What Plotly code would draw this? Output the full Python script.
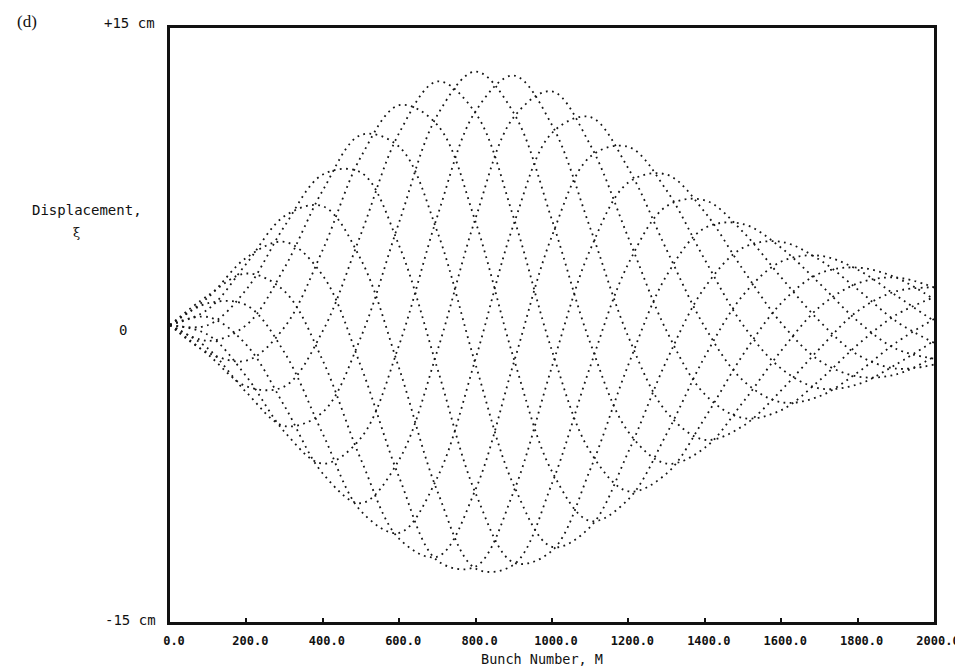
import plotly.graph_objects as go

# Bunch number knots (M) and displacement (cm)
M_knots = [0, 100, 200, 300, 400, 500, 600, 700, 800, 900, 1000,
           1100, 1200, 1300, 1400, 1500, 1600, 1700, 1800, 1900, 2000]

curve_01 = [0, -1.2, -3.4, -5.1, -4.4, -0.6, 5.2, 10.6, 12.8, 10.7, 5.3, -0.9, -5.4, -7.0, -6.2, -3.9, -1.3, 0.9, 2.1, 2.4, 1.9]
curve_02 = [0, -0.5, -2.6, -5.4, -7.0, -5.7, -1.0, 5.5, 10.8, 12.6, 10.1, 4.9, -0.6, -4.4, -5.8, -5.1, -3.3, -1.2, 0.7, 1.7, 1.9]
curve_03 = [0, 0.4, -1.0, -4.1, -7.5, -9.0, -6.8, -1.3, 5.4, 10.5, 11.8, 9.1, 4.4, -0.3, -3.5, -4.7, -4.3, -2.8, -1.0, 0.5, 1.4]
curve_04 = [0, 1.1, 1.0, -1.4, -5.5, -9.4, -10.5, -7.7, -1.7, 5.1, 9.7, 10.5, 7.9, 3.8, -0.1, -2.8, -3.9, -3.6, -2.4, -0.9, 0.3]
curve_05 = [0, 1.5, 2.6, 1.7, -1.8, -6.8, -10.8, -11.7, -8.3, -1.9, 4.5, 8.5, 9.0, 6.8, 3.3, 0.0, -2.2, -3.2, -3.0, -2.0, -0.8]
curve_06 = [0, 1.4, 3.4, 4.2, 2.5, -2.1, -7.7, -11.9, -12.2, -8.4, -2.1, 3.8, 7.2, 7.6, 5.7, 2.8, 0.1, -1.8, -2.6, -2.5, -1.6]
curve_07 = [0, 0.8, 3.1, 5.5, 6.0, 3.3, -2.2, -8.4, -12.3, -12.1, -8.0, -2.1, 3.1, 6.0, 6.3, 4.7, 2.4, 0.2, -1.5, -2.2, -2.0]
curve_08 = [0, 0.0, 1.8, 5.0, 7.6, 7.7, 4.0, -2.2, -8.5, -12.0, -11.4, -7.3, -2.0, 2.5, 4.9, 5.1, 3.9, 2.1, 0.2, -1.2, -1.7]
curve_09 = [0, -0.8, 0.0, 2.9, 6.8, 9.6, 9.0, 4.7, -2.0, -8.1, -11.2, -10.2, -6.4, -1.8, 1.9, 3.9, 4.2, 3.3, 1.8, 0.2, -0.9]
curve_10 = [0, -1.4, -1.8, -0.1, 3.8, 8.5, 11.1, 10.1, 5.2, -1.7, -7.4, -9.9, -8.8, -5.5, -1.6, 1.5, 3.2, 3.5, 2.8, 1.5, 0.2]
curve_11 = [0, -1.5, -3.1, -3.1, -0.3, 4.6, 9.7, 12.3, 10.7, 5.4, -1.3, -6.4, -8.4, -7.5, -4.7, -1.5, 1.1, 2.6, 2.9, 2.4, 1.3]

curves = [curve_01, curve_02, curve_03, curve_04, curve_05, curve_06,
          curve_07, curve_08, curve_09, curve_10, curve_11]

x_ticks = [0, 200, 400, 600, 800, 1000, 1200, 1400, 1600, 1800, 2000]
x_ticklabels = ["0.0", "200.0", "400.0", "600.0", "800.0", "1000.0",
                "1200.0", "1400.0", "1600.0", "1800.0", "2000.0"]

W, H = 963, 667
L, R, T, B = 162, 926, 20, 614

fig = go.Figure()
for c in curves:
    fig.add_trace(go.Scatter(x=M_knots, y=c, mode="lines",
                             line=dict(color="#151515", width=1.8, dash="1.8px,4.4px", shape="spline"),
                             hoverinfo="skip", showlegend=False))


def px(xp):
    return (xp - L) / (R - L)


def py(yp):
    return (B - yp) / (B - T)


mono = "DejaVu Sans Mono"
ann = [
    dict(text="(d)", x=px(7), y=py(14), xanchor="left", yanchor="middle",
         font=dict(family="Liberation Serif", size=17, color="#111")),
    dict(text="+15 cm", x=px(149), y=py(15), xanchor="right", yanchor="middle",
         font=dict(family=mono, size=14, color="#111")),
    dict(text="0", x=px(121), y=py(322), xanchor="right", yanchor="middle",
         font=dict(family=mono, size=14, color="#111")),
    dict(text="-15 cm", x=px(150), y=py(612), xanchor="right", yanchor="middle",
         font=dict(family=mono, size=14, color="#111")),
    dict(text="Displacement,", x=px(22), y=py(202), xanchor="left", yanchor="middle",
         font=dict(family=mono, size=14, color="#111")),
    dict(text="ξ", x=px(68), y=py(224), xanchor="center", yanchor="middle",
         font=dict(family="DejaVu Serif", size=13, color="#111")),
    dict(text="Bunch Number, M", x=px(534), y=py(651), xanchor="center", yanchor="middle",
         font=dict(family=mono, size=13.5, color="#111")),
]
for a in ann:
    a.update(xref="paper", yref="paper", showarrow=False)

fig.update_layout(
    width=W, height=H, paper_bgcolor="white", plot_bgcolor="white",
    margin=dict(l=L, r=W - R, t=T, b=H - B),
    annotations=ann,
    xaxis=dict(range=[0, 2000], tickvals=x_ticks, ticktext=x_ticklabels, ticks="inside", ticklen=4,
               tickwidth=2, tickcolor="#111", showgrid=False, zeroline=False, showline=True,
               linecolor="#111", linewidth=2.5, mirror=True, ticklabelshift=4, ticklabelstandoff=6,
               tickfont=dict(family=mono, size=12, color="#111", weight="bold")),
    yaxis=dict(range=[-15, 15], showticklabels=False, ticks="", showgrid=False, zeroline=False,
               showline=True, linecolor="#111", linewidth=2.5, mirror=True),
)
fig.write_html("out.html")
